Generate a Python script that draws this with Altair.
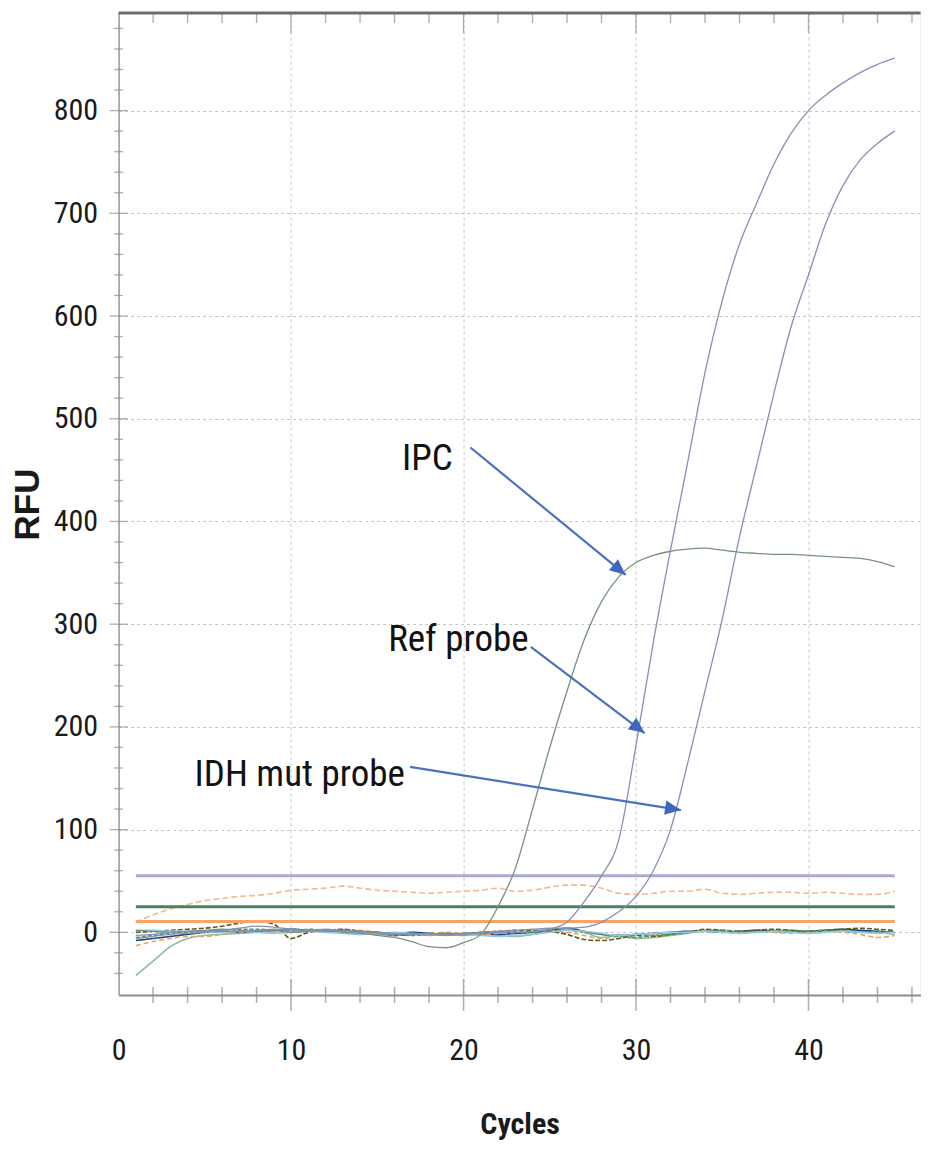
import math
import altair as alt
import pandas as pd

# ---------------- data ----------------
cycles = list(range(1, 46))

ipc = [2, 1, 0, 1, 2, 3, 2, 1, 2, 0, 1, 2, 0, -1, -3, -5, -9, -14, -15, -10,
       -2, 25, 62, 120, 180, 235, 285, 322, 346, 360, 367, 371, 373, 374, 372,
       370, 369, 368, 368, 367, 366, 365, 364, 361, 356]
ref_probe = [-6, -4, -2, -1, 0, 1, 1, 2, 3, 2, 1, 2, 1, 0, -1, -2, -1, -2, -3, -2,
             -1, 0, 0, 1, 3, 10, 30, 55, 90, 182, 282, 372, 458, 545, 615, 670,
             710, 748, 778, 800, 815, 827, 837, 845, 851]
idh_mut = [-3, -2, 0, 1, 1, 2, 4, 6, 5, 3, 2, 3, 2, 1, 0, -1, -2, -1, -2, -1,
           0, 1, 2, 3, 4, 4, 5, 10, 20, 35, 60, 100, 165, 235, 305, 385, 455,
           525, 590, 640, 690, 727, 752, 768, 780]

orange_hi = [10, 17, 23, 27, 31, 33, 35, 36, 38, 41, 42, 43, 45, 43, 41, 40, 39, 38,
             39, 40, 41, 43, 40, 41, 44, 46, 46, 43, 38, 37, 38, 40, 40, 42, 38, 37,
             38, 39, 39, 38, 39, 38, 37, 37, 40]
teal = [-42, -28, -14, -6, -3, -2, -1, 0, 1, 3, 2, 1, 2, 0, -2, -3, -2, -3, -2, -3,
        -2, -3, -4, -2, 1, 3, 0, -5, -3, -6, -5, -3, -1, 2, 1, 0, 1, 2, 1, 0,
        1, 2, 1, 0, -2]
navy = [-8, -6, -4, -2, 0, 1, 0, 1, 2, 3, 2, 1, 2, 1, 0, -1, 0, -1, -2, -2,
        -1, -2, -1, 0, 2, 4, 1, -2, -3, -2, -1, 0, 1, 1, 0, 1, 2, 1, 0, 1,
        2, 3, 2, 1, 0]
orange_lo = [-13, -9, -6, -4, -4, -2, 0, 1, 0, 2, 1, 0, 1, 2, 0, -1, -2, -1, 0, -1,
             -2, -1, 0, 1, 2, 0, -3, -6, -4, -2, -3, -1, 0, 2, 1, 0, 1, 0, -1, 0,
             1, 0, -2, -5, -3]
olive = [0, 1, 2, 3, 4, 6, 9, 11, 8, -6, 0, 2, 3, 1, 0, -3, -2, -1, -2, -1,
         0, 1, 2, 2, 1, -2, -7, -8, -6, -3, -4, -2, 0, 3, 2, 1, 2, 3, 2, 1,
         2, 3, 4, 3, 2]
green = [-5, -3, -1, 0, 1, 2, 3, 3, 2, 1, 3, 2, 1, 0, -1, -2, -3, -2, -1, -2,
         -1, 0, 1, 0, 1, 2, 0, -2, -4, -5, -3, -2, 0, 1, 2, 1, 0, 1, 2, 1,
         2, 1, 0, 1, 0]
light_blue = [2, 2, 1, 1, 0, 0, 1, 0, -1, 0, 1, 0, -1, -2, -1, 0, -1, -2, -3, -2,
              -3, -4, -3, -2, 0, 2, 1, -1, -3, -2, -1, 0, 0, 1, 0, -1, 0, 1, 0, -1,
              0, 1, 0, -1, 0]

threshold_names = ["thr_lavender", "thr_green", "thr_orange"]
threshold_values = [55, 25, 10.5]
threshold_start = [1, 1, 1]
threshold_end = [45, 45, 45]

label_texts = ["IPC", "Ref probe", "IDH mut probe"]
label_x = [17.9, 19.7, 10.5]
label_y = [461, 285, 153]
arrow_x1 = [20.4, 23.9, 16.9]
arrow_y1 = [472, 278, 161]
arrow_x2 = [29.4, 30.5, 32.6]
arrow_y2 = [348, 194, 119]

x_label_values = [0, 10, 20, 30, 40]
y_label_values = [0, 100, 200, 300, 400, 500, 600, 700, 800]
x_minor_ticks = [2, 4, 6, 8, 12, 14, 16, 18, 22, 24, 26, 28, 32, 34, 36, 38, 42, 44, 46]
x_major_ticks = [10, 20, 30, 40]
y_minor_ticks = [-40, -20, 20, 40, 60, 80, 120, 140, 160, 180, 220, 240, 260, 280,
                 320, 340, 360, 380, 420, 440, 460, 480, 520, 540, 560, 580, 620,
                 640, 660, 680, 720, 740, 760, 780, 820, 840, 860, 880]
y_major_ticks = [0, 100, 200, 300, 400, 500, 600, 700, 800]

# ---------------- layout / style ----------------
W, H = 802, 982
X_DOMAIN = [0, 46.5]
Y_DOMAIN = [-61, 895]
FONT = "Roboto Condensed, Liberation Sans Narrow, Liberation Sans, Arial, sans-serif"
TXT = "#1a1a1a"
AX = "#8c8c8c"

xs = alt.Scale(domain=X_DOMAIN, nice=False, zero=False)
ys = alt.Scale(domain=Y_DOMAIN, nice=False, zero=False)

x_axis = alt.Axis(values=x_label_values, title="Cycles", grid=True, gridDash=[3, 3],
                  gridColor="#c6c6c6", gridWidth=1, ticks=False, domainColor=AX,
                  domainWidth=2, labelFont=FONT, labelFontSize=30, labelColor=TXT,
                  labelPadding=41, labelFlush=False, titleFont=FONT, titleFontSize=30,
                  titleFontWeight="bold", titleColor=TXT, titlePadding=44)
y_axis = alt.Axis(values=y_label_values, title="RFU", grid=True, gridDash=[3, 3],
                  gridColor="#c6c6c6", gridWidth=1, ticks=False, domainColor="#a0a0a0",
                  domainWidth=1.5, labelFont=FONT, labelFontSize=30, labelColor=TXT,
                  labelPadding=21, labelFlush=False, titleFont="Liberation Sans",
                  titleFontSize=35, titleFontWeight="bold", titleColor=TXT, titlePadding=8)


def X(field):
    return alt.X(field, scale=xs, axis=x_axis)


def Y(field):
    return alt.Y(field, scale=ys, axis=y_axis)


# noise / baseline traces
noise_series = {
    "orange_hi": orange_hi, "teal": teal, "navy": navy, "orange_lo": orange_lo,
    "olive": olive, "green": green, "light_blue": light_blue,
}
noise_colors = ["#f5b88c", "#8dbb9c", "#22457f", "#f2a25e", "#5f5c22", "#4f9a55", "#8fcbe6"]
noise_dash = [[6, 3], [1, 0], [1, 0], [5, 3], [5, 2], [4, 2], [1, 0]]

rows = []
for name, vals in noise_series.items():
    for c, v in zip(cycles, vals):
        rows.append({"series": name, "cycle": c, "rfu": v})
noise_df = pd.DataFrame(rows)
names = list(noise_series.keys())

noise = alt.Chart(noise_df).mark_line(strokeWidth=1.6, interpolate="monotone").encode(
    x=X("cycle:Q"), y=Y("rfu:Q"),
    detail="series:N",
    color=alt.Color("series:N", scale=alt.Scale(domain=names, range=noise_colors), legend=None),
    strokeDash=alt.StrokeDash("series:N", scale=alt.Scale(domain=names, range=noise_dash), legend=None),
)

thr_df = pd.DataFrame({"name": threshold_names, "y": threshold_values,
                       "x1": threshold_start, "x2": threshold_end})
thr_colors = ["#aaa9cf", "#4c7f5e", "#f6a468"]
thresholds = alt.layer(*[
    alt.Chart(thr_df[thr_df["name"] == n]).mark_rule(strokeWidth=3, color=col).encode(
        x=X("x1:Q"), x2="x2:Q", y=Y("y:Q"))
    for n, col in zip(threshold_names, thr_colors)
])

main_series = {"IPC": ipc, "Ref probe": ref_probe, "IDH mut probe": idh_mut}
main_colors = ["#76927e", "#8491b4", "#8491b4"]
main_layers = []
for (name, vals), col in zip(main_series.items(), main_colors):
    df = pd.DataFrame({"cycle": cycles, "rfu": vals})
    main_layers.append(
        alt.Chart(df).mark_line(strokeWidth=1.3, interpolate="monotone", color=col).encode(
            x=X("cycle:Q"), y=Y("rfu:Q")))
main = alt.layer(*main_layers)

# arrows
kx = W / (X_DOMAIN[1] - X_DOMAIN[0])
ky = H / (Y_DOMAIN[1] - Y_DOMAIN[0])
angles = []
for a, b, c, d in zip(arrow_x1, arrow_y1, arrow_x2, arrow_y2):
    dx = (c - a) * kx
    dy = -(d - b) * ky
    angles.append(math.degrees(math.atan2(dx, -dy)) % 360)
arrow_df = pd.DataFrame({"x1": arrow_x1, "y1": arrow_y1, "x2": arrow_x2, "y2": arrow_y2,
                         "ang": angles})
arrow_lines = alt.Chart(arrow_df).mark_rule(strokeWidth=2.2, color="#4a72c0").encode(
    x=X("x1:Q"), y=Y("y1:Q"), x2="x2:Q", y2="y2:Q",
)
arrow_heads = alt.Chart(arrow_df).mark_point(
    shape="M0,0L0.45,1L-0.45,1Z", filled=True, size=1000, color="#3e68bf", opacity=1,
).encode(
    x=X("x2:Q"), y=Y("y2:Q"),
    angle=alt.Angle("ang:Q", scale=None),
)

text_df = pd.DataFrame({"t": label_texts, "x": label_x, "y": label_y})
texts = alt.Chart(text_df).mark_text(font=FONT, fontSize=37, color="#111111",
                                     align="center", baseline="middle").encode(
    x=X("x:Q"), y=Y("y:Q"), text="t:N",
)


# ticks
def tick_df(vals):
    return pd.DataFrame({"v": vals})


y_minor = alt.Chart(tick_df(y_minor_ticks)).mark_tick(
    orient="horizontal", size=9, thickness=1.3, color=AX).encode(y=Y("v:Q"), x=alt.value(0))
y_major = alt.Chart(tick_df(y_major_ticks)).mark_tick(
    orient="horizontal", size=18, thickness=1.3, color=AX).encode(y=Y("v:Q"), x=alt.value(0))
xb_minor = alt.Chart(tick_df(x_minor_ticks)).mark_tick(
    orient="vertical", size=16, thickness=1.5, color=AX).encode(x=X("v:Q"), y=alt.value(H))
xb_major = alt.Chart(tick_df(x_major_ticks)).mark_tick(
    orient="vertical", size=32, thickness=1.5, color=AX).encode(x=X("v:Q"), y=alt.value(H))
xt_minor = alt.Chart(tick_df(x_minor_ticks)).mark_tick(
    orient="vertical", size=10, thickness=1.3, color=AX).encode(x=X("v:Q"), y=alt.value(5))
xt_major = alt.Chart(tick_df(x_major_ticks)).mark_tick(
    orient="vertical", size=20, thickness=1.3, color=AX).encode(x=X("v:Q"), y=alt.value(10))
top_line = alt.Chart(tick_df([0])).mark_rule(color="#6c6c6c", strokeWidth=3).encode(
    x=alt.value(0), x2=alt.value(W), y=alt.value(0))

chart = alt.layer(
    noise, thresholds, main, arrow_lines, arrow_heads, texts,
    y_minor, y_major, xb_minor, xb_major, xt_minor, xt_major, top_line,
).resolve_scale(
    color="independent", strokeDash="independent"
).properties(
    width=W, height=H,
    autosize=alt.AutoSizeParams(type="none"),
    padding={"left": 110.6, "top": 5, "right": 0, "bottom": 149},
).configure_view(stroke=None).configure(background="white")

chart.save("out.html", embed_options={"renderer": "svg", "actions": False})
